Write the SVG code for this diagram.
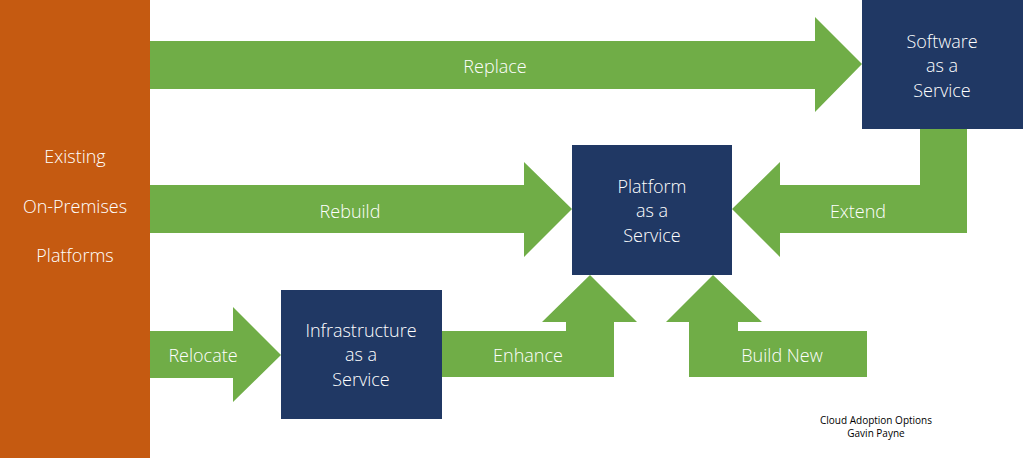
<svg xmlns="http://www.w3.org/2000/svg" width="1024" height="458" viewBox="0 0 1024 458">
<style>
.arrow{fill:#70AD47}
.box{fill:#203864}
.t{font-family:"Open Sans","Liberation Sans",sans-serif;font-weight:300;font-size:18px;fill:#FFFFFF;text-anchor:middle}
.small{font-family:"Open Sans","Liberation Sans",sans-serif;font-size:10px;fill:#000000;text-anchor:middle}
</style>
<rect width="1024" height="458" fill="#FFFFFF"/>
<g id="existing">
<rect x="0" y="0" width="150" height="458" fill="#C55A11"/>
<text class="t" x="75" y="163">Existing</text>
<text class="t" x="75" y="213">On-Premises</text>
<text class="t" x="75" y="262">Platforms</text>
</g>
<g id="connectors">
<g id="replace">
<polygon class="arrow" points="150,41 815,41 815,17 862,64 815,112 815,89 150,89"/>
<text class="t" x="495" y="73">Replace</text>
</g>
<g id="rebuild">
<polygon class="arrow" points="150,185 524,185 524,162 572,209 524,257 524,233 150,233"/>
<text class="t" x="350" y="218">Rebuild</text>
</g>
<g id="extend">
<polygon class="arrow" points="920,129 967,129 967,233 780,233 780,257 732,209 780,162 780,185 920,185"/>
<text class="t" x="858" y="218">Extend</text>
</g>
<g id="relocate">
<polygon class="arrow" points="150,331 233,331 233,307 281,355 233,402 233,378 150,378"/>
<text class="t" x="203" y="362">Relocate</text>
</g>
<g id="enhance">
<polygon class="arrow" points="442,331 566,331 566,322 542,322 590,275 637,322 614,322 614,377 442,377"/>
<text class="t" x="528" y="362">Enhance</text>
</g>
<g id="buildnew">
<polygon class="arrow" points="867,331 738,331 738,322 762,322 713,275 666,322 689,322 689,377 867,377"/>
<text class="t" x="782" y="362">Build New</text>
</g>
</g>
<g id="saas">
<rect class="box" x="862" y="0" width="161" height="129"/>
<text class="t" x="942" y="48">Software</text>
<text class="t" x="942" y="72">as a</text>
<text class="t" x="942" y="97">Service</text>
</g>
<g id="paas">
<rect class="box" x="572" y="145" width="160" height="130"/>
<text class="t" x="652" y="193">Platform</text>
<text class="t" x="652" y="217">as a</text>
<text class="t" x="652" y="242">Service</text>
</g>
<g id="iaas">
<rect class="box" x="281" y="290" width="161" height="129"/>
<text class="t" x="361" y="337">Infrastructure</text>
<text class="t" x="361" y="361">as a</text>
<text class="t" x="361" y="386">Service</text>
</g>
<g id="caption">
<text class="small" x="876" y="424">Cloud Adoption Options</text>
<text class="small" x="876" y="437">Gavin Payne</text>
</g>
</svg>
